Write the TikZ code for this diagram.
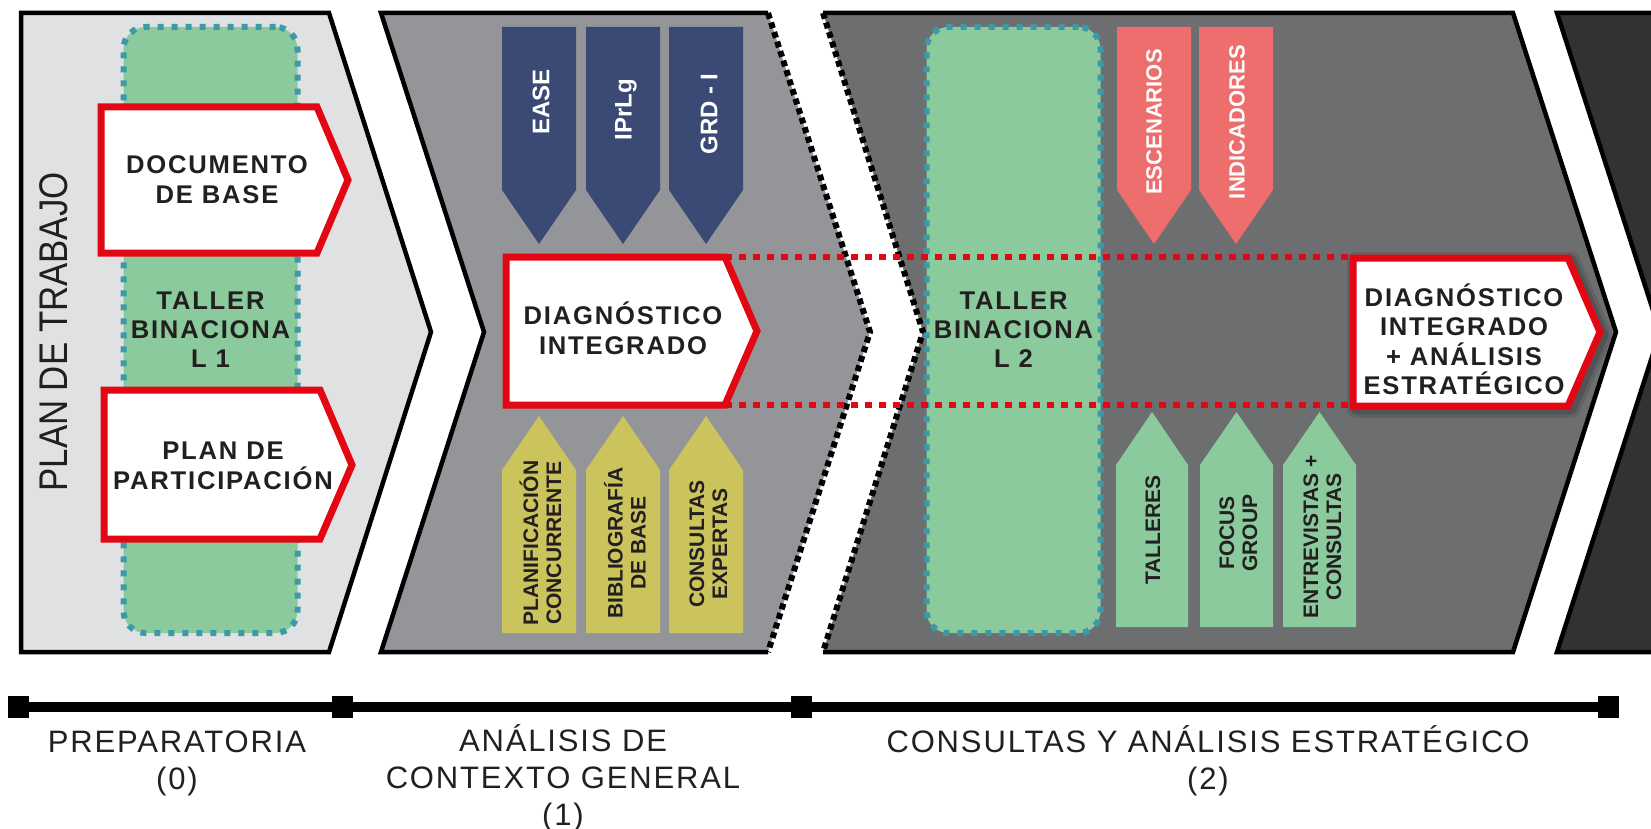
\documentclass[tikz,border=0pt]{standalone}
\usepackage{fontspec}
\setmainfont{Liberation Sans}
\newfontfamily\boxfont[LetterSpace=7]{Liberation Sans}
\newfontfamily\labfont[LetterSpace=6]{Liberation Sans}
\definecolor{pA}{HTML}{E0E1E2}
\definecolor{pB}{HTML}{939598}
\definecolor{pC}{HTML}{6D6E70}
\definecolor{pD}{HTML}{323234}
\definecolor{mygreen}{HTML}{8ACA9C}
\definecolor{myteal}{HTML}{3C9AA8}
\definecolor{mynavy}{HTML}{3A4A75}
\definecolor{myyellow}{HTML}{CBC35B}
\definecolor{mypink}{HTML}{EE6D6D}
\definecolor{myred}{HTML}{E30613}
\definecolor{ink}{HTML}{231F20}
\begin{document}
\begin{tikzpicture}[x=1pt,y=-1pt,
  panelline/.style={draw=black,line width=4.5pt,line join=miter},
  blackdots/.style={draw=black,line width=6pt,dash pattern=on 6pt off 4pt},
  tallerbox/.style={fill=mygreen,draw=myteal,line width=6pt,dash pattern=on 6pt off 8pt,
     rounded corners=22pt,minimum width=174pt,minimum height=606pt,inner sep=0pt,
     align=center,text=ink,font=\boxfont\bfseries\fontsize{25.6}{29}\selectfont},
  redbox/.style={draw=myred,line width=7pt,fill=white,line join=miter},
  reddots/.style={draw=myred,line width=6pt,dash pattern=on 7pt off 7pt},
  boxtext/.style={align=center,text=ink,inner sep=0pt,font=\boxfont\bfseries\fontsize{25.6}{30}\selectfont},
  whitetag/.style={rotate=90,text=white,inner sep=0pt,font=\bfseries\fontsize{24}{24}\selectfont},
  pinktag/.style={rotate=90,text=white,inner sep=0pt,font=\bfseries\fontsize{22}{22}\selectfont},
  darktag/.style={rotate=90,text=ink,align=center,inner sep=0pt,font=\bfseries\fontsize{21}{23}\selectfont},
  tick/.style={fill=black,minimum width=21pt,minimum height=22pt,inner sep=0pt},
  labeltext/.style={align=center,text=ink,inner sep=0pt,font=\labfont\fontsize{31}{37}\selectfont}
]
\useasboundingbox (0,0) rectangle (1651,829);
\clip (0,0) rectangle (1651,829);

% ---- panels ----
\fill[pA] (21,13) -- (329,13) -- (431,332) -- (329,652) -- (21,652) -- cycle;
\draw[panelline] (21,13) -- (329,13) -- (431,332) -- (329,652) -- (21,652) -- cycle;

\fill[pB] (381,13) -- (768,13) -- (870,332) -- (768,652) -- (381,652) -- (484,332) -- cycle;
\draw[panelline] (768,13) -- (381,13) -- (484,332) -- (381,652) -- (768,652);
\draw[blackdots] (768,13) -- (870,332) -- (768,652);

\fill[pC] (823,13) -- (1513,13) -- (1616,332) -- (1513,652) -- (823,652) -- (923,332) -- cycle;
\draw[panelline] (823,13) -- (1513,13) -- (1616,332) -- (1513,652) -- (823,652);
\draw[blackdots] (823,13) -- (923,332) -- (823,652);

\fill[pD] (1557,13) -- (1700,13) -- (1700,652) -- (1557,652) -- (1660,332) -- cycle;
\draw[panelline] (1700,13) -- (1557,13) -- (1660,332) -- (1557,652) -- (1700,652);

% ---- vertical title ----
\node[rotate=90,text=ink,inner sep=0pt,font=\fontsize{40}{40}\selectfont] (plan) at (53.5,332)
  {\scalebox{0.87}[1]{PLAN DE TRABAJO}};

% ---- workshop boxes ----
\node[tallerbox] (t1) at (210.5,330) {TALLER\\BINACIONA\\L 1};
\node[tallerbox] (t2) at (1013.5,330) {TALLER\\BINACIONA\\L 2};

% ---- navy down tags ----
\fill[mynavy] (502,27) -- (576,27) -- (576,190) -- (539,244) -- (502,190) -- cycle;
\fill[mynavy] (586,27) -- (660,27) -- (660,190) -- (623,244) -- (586,190) -- cycle;
\fill[mynavy] (669,27) -- (743,27) -- (743,190) -- (706,244) -- (669,190) -- cycle;
\node[whitetag] (ease) at (541,102) {EASE};
\node[whitetag] (iprlg) at (626,110) {IPrLg};
\node[whitetag] (grd) at (709,114) {GRD - I};

% ---- yellow up tags ----
\fill[myyellow] (539,416) -- (576,470) -- (576,633) -- (502,633) -- (502,470) -- cycle;
\fill[myyellow] (623,416) -- (660,470) -- (660,633) -- (586,633) -- (586,470) -- cycle;
\fill[myyellow] (706,416) -- (743,470) -- (743,633) -- (669,633) -- (669,470) -- cycle;
\node[darktag] (plani) at (540.5,543) {PLANIFICACIÓN\\CONCURRENTE};
\node[darktag] (biblio) at (625,543) {BIBLIOGRAFÍA\\DE BASE};
\node[darktag] (consexp) at (708.5,544) {CONSULTAS\\EXPERTAS};

% ---- pink down tags ----
\fill[mypink] (1117,27) -- (1191,27) -- (1191,190) -- (1154,244) -- (1117,190) -- cycle;
\fill[mypink] (1199,27) -- (1273,27) -- (1273,190) -- (1236,244) -- (1199,190) -- cycle;
\node[pinktag] (esc) at (1154,122) {ESCENARIOS};
\node[pinktag] (ind) at (1237,122) {INDICADORES};

% ---- green up tags ----
\fill[mygreen] (1152,412) -- (1188,465) -- (1188,627) -- (1116,627) -- (1116,465) -- cycle;
\fill[mygreen] (1236.5,412) -- (1273,465) -- (1273,627) -- (1200,627) -- (1200,465) -- cycle;
\fill[mygreen] (1319.5,412) -- (1356,465) -- (1356,627) -- (1283,627) -- (1283,465) -- cycle;
\node[darktag] (tall) at (1153,530) {TALLERES};
\node[darktag] (focus) at (1238.5,533) {FOCUS\\GROUP};
\node[darktag] (entre) at (1322.5,537) {ENTREVISTAS +\\CONSULTAS};

% ---- red boxes ----
\draw[redbox] (101,107) -- (317,107) -- (348,180) -- (317,253) -- (101,253) -- cycle;
\node[boxtext,anchor=base] (doc) at (217,204) {DOCUMENTO\\DE BASE};

\draw[redbox] (104,390) -- (320,390) -- (352,465) -- (320,539) -- (104,539) -- cycle;
\node[boxtext,anchor=base] (part) at (223,489) {PLAN DE\\PARTICIPACIÓN};

\draw[redbox] (506,257) -- (725,257) -- (757,331) -- (725,405) -- (506,405) -- cycle;
\node[boxtext,anchor=base] (diag) at (623,354) {DIAGNÓSTICO\\INTEGRADO};

\draw[black,opacity=0.10,line width=18pt,line join=round,shift={(3,3)}]
  (1353,258) -- (1568,258) -- (1600,332) -- (1568,406) -- (1353,406) -- cycle;
\draw[black,opacity=0.15,line width=11pt,line join=round,shift={(3,3)}]
  (1353,258) -- (1568,258) -- (1600,332) -- (1568,406) -- (1353,406) -- cycle;
\draw[redbox] (1353,258) -- (1568,258) -- (1600,332) -- (1568,406) -- (1353,406) -- cycle;
\node[boxtext,anchor=base,font=\boxfont\bfseries\fontsize{25.6}{29.5}\selectfont] (final) at (1464,394.5)
  {DIAGNÓSTICO\\INTEGRADO\\+ ANÁLISIS\\ESTRATÉGICO};

% ---- red dotted links ----
\coordinate (dTR) at (725,257);
\coordinate (dBR) at (725,405);
\coordinate (fTL) at (1353,257);
\coordinate (fBL) at (1353,405);
\draw[reddots] (dTR) -- (fTL);
\draw[reddots] (dBR) -- (fBL);

% ---- timeline ----
\node[tick] (m0) at (18.5,707) {};
\node[tick] (m1) at (342.5,707) {};
\node[tick] (m2) at (801.5,707) {};
\node[tick] (m3) at (1608,707) {};
\draw[line width=10pt] (m0.center) -- (m1.center) -- (m2.center) -- (m3.center);

\node[labeltext,anchor=base] (l0) at (177,789) {PREPARATORIA\\(0)};
\node[labeltext,anchor=base] (l1) at (563,825) {ANÁLISIS DE\\CONTEXTO GENERAL\\(1)};
\node[labeltext,anchor=base] (l2) at (1208,789) {CONSULTAS Y ANÁLISIS ESTRATÉGICO\\(2)};
\end{tikzpicture}
\end{document}
